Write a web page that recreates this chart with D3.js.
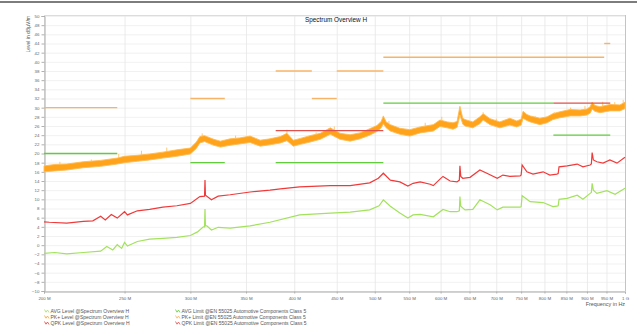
<!DOCTYPE html>
<html>
<head>
<meta charset="utf-8">
<script src="https://cdn.jsdelivr.net/npm/d3@7"></script>
<style>
  body { margin: 0; background: #fff; }
  svg { display: block; }
  text { font-family: "Liberation Sans", Arial, sans-serif; }
</style>
</head>
<body>
<svg id="chart" width="637" height="327"></svg>
<script>
// Frequency axis (MHz, logarithmic) and level axis (dBµV/m)
const freqTicks = [200, 250, 300, 350, 400, 450, 500, 550, 600, 650, 700, 750, 800, 850, 900, 950, 1000];
const freqTickLabels = ["200 M", "250 M", "300 M", "350 M", "400 M", "450 M", "500 M", "550 M", "600 M",
  "650 M", "700 M", "750 M", "800 M", "850 M", "900 M", "950 M", "1 G"];
const levelTicks = d3.range(-10, 51, 2);

// PK+ level: noisy trace, stored as lower / upper envelope
const pkFreq = [200, 206, 213, 223, 234, 245, 250, 259, 268, 278, 289, 300, 305, 308, 312, 316, 320, 326, 335, 344,
  354, 364, 374, 385, 392, 399, 407, 418, 430, 442, 454, 467, 480, 493, 503, 509, 512, 516, 522, 536,
  551, 567, 588, 599, 611, 621, 628, 633, 638, 642, 656, 669, 675, 688, 707, 727, 741, 750, 754, 762,
  769, 790, 806, 819, 835, 859, 883, 900, 908, 913, 920, 933, 959, 986, 1000];
const pkHigh = [17.3, 17.6, 17.7, 18.2, 18.5, 19.0, 19.4, 19.6, 19.9, 20.3,
  20.8, 21.2, 22.5, 23.7, 23.9, 23.5, 23.1, 22.7, 23.2, 23.4,
  23.8, 22.9, 23.2, 23.7, 24.4, 22.9, 23.3, 23.9, 24.4, 25.6,
  24.4, 24.1, 24.5, 25.4, 26.1, 27.0, 28.2, 26.9, 26.3, 25.5,
  25.2, 25.8, 26.3, 27.3, 26.9, 26.7, 27.0, 30.3, 27.7, 27.4,
  26.9, 28.0, 28.7, 27.6, 26.9, 27.7, 27.1, 27.5, 29.2, 28.5,
  28.2, 27.7, 28.0, 28.7, 29.1, 29.6, 29.5, 29.7, 30.2, 31.2,
  30.5, 30.2, 30.7, 30.6, 31.2];
const pkLow = [16.0, 16.2, 16.4, 16.9, 17.2, 17.7, 18.0, 18.3, 18.6, 19.0,
  19.4, 19.9, 21.1, 22.3, 22.6, 22.2, 21.8, 21.4, 21.8, 22.1,
  22.4, 21.6, 21.9, 22.3, 22.8, 21.6, 22.0, 22.5, 23.1, 24.2,
  23.1, 22.7, 23.2, 24.0, 24.8, 25.6, 26.5, 25.6, 24.9, 24.2,
  23.8, 24.5, 24.9, 25.9, 25.6, 25.3, 25.7, 28.4, 26.4, 26.0,
  25.6, 26.5, 27.3, 26.3, 25.6, 26.2, 25.8, 26.2, 27.7, 27.2,
  26.9, 26.3, 26.7, 27.4, 27.8, 28.2, 28.2, 28.4, 28.8, 29.7,
  29.2, 28.9, 29.3, 29.3, 29.8];
// isolated noise peaks rising above the PK+ band
const pkPeakFreq = [209, 228, 246, 262, 281, 310, 340, 392, 425, 447, 520, 575, 602, 675, 700, 780, 822, 860, 895, 940, 972, 995];
const pkPeakLevel = [18.2, 18.7, 19.9, 20.6, 21.3, 24.4, 23.9, 25.2, 24.6, 25.9, 27.1, 26.7, 28.0, 29.0, 27.6, 28.1, 29.0, 30.0, 30.4, 31.3, 31.2, 31.7];

// QPK level
const qpkFreq = [200, 203, 213, 223, 229, 234, 237, 241, 245, 250, 252, 259, 268, 278, 289, 300, 308, 312, 312.4, 312.8,
  318, 324, 335, 354, 374, 385, 406, 442, 467, 493, 505, 512, 522, 536, 548, 556, 567, 583, 588, 599,
  604, 616, 628, 632, 633, 634.5, 638, 651, 669, 682, 702, 713, 727, 748, 750, 752, 762, 775, 797, 812,
  828, 831, 833, 852, 876, 890, 908, 911, 913, 916, 925, 941, 959, 978, 1000];
const qpkLevel = [5.1, 5.0, 4.8, 5.2, 5.3, 6.3, 5.5, 6.7, 5.9, 7.3, 6.6, 7.5, 7.8, 8.3, 8.6, 9.1, 10.6, 10.7, 14.2, 10.9,
  9.9, 10.7, 11.0, 11.6, 12.0, 12.3, 12.7, 13.0, 13.0, 13.6, 14.6, 15.7, 14.2, 13.8, 12.9, 13.5, 13.8, 13.3, 13.0, 14.4,
  15.0, 14.0, 13.8, 14.2, 17.3, 15.0, 14.6, 14.8, 16.4, 15.7, 14.6, 15.3, 15.0, 15.1, 15.3, 17.5, 16.0, 15.5, 16.0, 15.3,
  15.5, 15.6, 17.1, 17.3, 17.7, 17.1, 17.5, 17.7, 20.2, 18.6, 18.2, 17.9, 18.6, 17.9, 19.2];

// AVG level
const avgFreq = [200, 206, 213, 223, 234, 238, 242, 245, 248, 250, 252, 259, 268, 278, 289, 300, 306, 311, 312, 312.4,
  312.8, 314, 318, 324, 335, 354, 374, 406, 442, 467, 493, 506, 512, 522, 536, 548, 556, 567, 588, 604,
  616, 628, 632, 633, 634.5, 642, 656, 669, 688, 702, 713, 727, 748, 750, 752, 769, 797, 819, 828, 831,
  833, 852, 876, 890, 908, 911, 913, 916, 925, 951, 973, 1000];
const avgLevel = [-1.8, -1.6, -1.9, -1.6, -1.3, -0.3, -1.05, 0.1, -0.7, 0.6, -0.2, 0.8, 1.3, 1.5, 1.7, 2.1, 2.9, 4.0, 4.0, 7.9,
  4.2, 4.2, 3.3, 3.9, 3.7, 4.2, 5.0, 6.6, 7.0, 7.2, 7.7, 8.6, 9.9, 8.5, 7.0, 5.9, 6.6, 6.7, 6.2, 7.8,
  7.3, 7.3, 7.5, 10.6, 8.5, 7.7, 7.8, 9.9, 8.8, 7.7, 8.3, 8.3, 8.3, 8.4, 10.8, 9.5, 9.3, 8.4, 8.5, 8.6,
  10.0, 10.2, 10.9, 10.0, 11.3, 11.5, 13.5, 12.0, 11.3, 11.9, 11.1, 12.4];

// EN 55025 Class 5 limits: [start MHz, stop MHz, dBµV/m]
const pkLimit = [[200, 245, 30], [300, 330, 32], [380, 420, 38], [420, 450, 32], [450, 512, 38], [512, 944, 41], [944, 960, 44]];
const avgLimit = [[200, 245, 20], [300, 330, 18], [380, 512, 18], [512, 820, 31], [820, 960, 24]];
const qpkLimit = [[380, 512, 25], [820, 960, 31]];

const legendLevels = ["AVG Level @Spectrum Overview H", "PK+ Level @Spectrum Overview H", "QPK Level @Spectrum Overview H"];
const legendLimits = ["AVG Limit @EN 55025 Automotive Components Class 5", "PK+ Limit @EN 55025 Automotive Components Class 5",
  "QPK Limit @EN 55025 Automotive Components Class 5"];

const colors = {
  avgLevel: "#a3e25c", pkLevel: "#ffa31a", pkEdge: "#ffbb55", qpkLevel: "#f03a3a",
  avgLimit: "#62cc3e", pkLimit: "#f8b466", qpkLimit: "#e0504e"
};

const svg = d3.select("#chart");
const plotLeft = 44, plotRight = 625, plotTop = 15, plotBottom = 291;

const x = d3.scaleLog().domain([200, 1000]).range([plotLeft, plotRight]);
const y = d3.scaleLinear().domain([-10, 50]).range([plotBottom, 16]);

svg.append("rect").attr("width", 637).attr("height", 327).attr("fill", "#fff");
svg.append("rect").attr("x", 0).attr("y", 1).attr("width", 637).attr("height", 2).attr("fill", "#7d7d7d");

// grid
const grid = svg.append("g");
grid.selectAll("line.h").data(levelTicks).join("line")
  .attr("x1", plotLeft).attr("x2", plotRight)
  .attr("y1", d => y(d) + 0.5).attr("y2", d => y(d) + 0.5)
  .attr("stroke", "#eeeeee").attr("stroke-width", 0.8);
grid.selectAll("line.v").data(freqTicks).join("line")
  .attr("x1", d => x(d) + 0.5).attr("x2", d => x(d) + 0.5)
  .attr("y1", plotTop).attr("y2", plotBottom)
  .attr("stroke", "#e6e6e6").attr("stroke-width", 0.8);

// frame
svg.append("line").attr("x1", plotLeft).attr("x2", plotRight).attr("y1", plotTop + 0.5).attr("y2", plotTop + 0.5).attr("stroke", "#dcdcdc");
svg.append("line").attr("x1", plotRight + 0.5).attr("x2", plotRight + 0.5).attr("y1", plotTop).attr("y2", plotBottom).attr("stroke", "#c4c4c4");

// axes
const yAxis = svg.append("g").attr("transform", `translate(${plotLeft + 0.5},0)`)
  .call(d3.axisLeft(y).tickValues(levelTicks).tickSize(3).tickPadding(2));
const xAxis = svg.append("g").attr("transform", `translate(0,${plotBottom + 0.5})`)
  .call(d3.axisBottom(x).tickValues(freqTicks).tickFormat((d, i) => freqTickLabels[i]).tickSize(2).tickPadding(3));
[yAxis, xAxis].forEach(g => {
  g.select(".domain").attr("stroke", "#a8a8a8");
  g.selectAll(".tick line").attr("stroke", "#b0b0b0");
  g.selectAll(".tick text").attr("fill", "#666").attr("font-size", 4.4)
    .attr("font-family", "'Liberation Sans', Arial, sans-serif");
});

// PK+ level band and its noise peaks
svg.append("path")
  .datum(pkFreq.map((f, i) => [f, pkLow[i], pkHigh[i]]))
  .attr("d", d3.area().x(d => x(d[0])).y0(d => y(d[1])).y1(d => y(d[2])))
  .attr("fill", colors.pkLevel).attr("stroke", colors.pkEdge).attr("stroke-width", 0.9);
const pkBandTop = d3.scaleLog().domain(pkFreq).range(pkHigh);
svg.append("g").selectAll("line").data(pkPeakFreq.map((f, i) => [f, pkPeakLevel[i]])).join("line")
  .attr("x1", d => x(d[0])).attr("x2", d => x(d[0]))
  .attr("y1", d => y(pkBandTop(d[0]))).attr("y2", d => y(d[1]))
  .attr("stroke", colors.pkEdge).attr("stroke-width", 0.8);

const line = d3.line().x(d => x(d[0])).y(d => y(d[1]));
svg.append("path").datum(qpkFreq.map((f, i) => [f, qpkLevel[i]]))
  .attr("d", line).attr("fill", "none").attr("stroke", colors.qpkLevel).attr("stroke-width", 1.2);
svg.append("path").datum(avgFreq.map((f, i) => [f, avgLevel[i]]))
  .attr("d", line).attr("fill", "none").attr("stroke", colors.avgLevel).attr("stroke-width", 1.2);

// limit segments
function drawLimits(data, color) {
  svg.append("g").selectAll("line").data(data).join("line")
    .attr("x1", d => x(d[0])).attr("x2", d => x(d[1]))
    .attr("y1", d => y(d[2])).attr("y2", d => y(d[2]))
    .attr("stroke", color).attr("stroke-width", 1.4);
}
drawLimits(pkLimit, colors.pkLimit);
drawLimits(avgLimit, colors.avgLimit);
drawLimits(qpkLimit, colors.qpkLimit);

// titles
svg.append("text").attr("x", 336).attr("y", 21.5).attr("text-anchor", "middle")
  .attr("font-size", 6.4).attr("fill", "#111").text("Spectrum Overview H");
svg.append("text").attr("transform", "translate(30,16) rotate(-90)").attr("text-anchor", "end")
  .attr("font-size", 5).attr("fill", "#555").text("Level in dBµV/m");
svg.append("text").attr("x", plotRight).attr("y", 306).attr("text-anchor", "end")
  .attr("font-size", 5.4).attr("fill", "#555").text("Frequency in Hz");

// legend
const legendRows = [311, 317, 323];
function legendColumn(x0, labels, cols) {
  labels.forEach((t, i) => {
    const cy = legendRows[i];
    svg.append("path")
      .attr("d", `M${x0},${cy - 1.5} L${x0 + 1.5},${cy + 1.2} L${x0 + 3},${cy - 1} L${x0 + 4.5},${cy + 1.5}`)
      .attr("fill", "none").attr("stroke", cols[i]).attr("stroke-width", 0.8);
    svg.append("text").attr("x", x0 + 6).attr("y", cy + 1.8)
      .attr("font-size", 5).attr("fill", "#555").text(t);
  });
}
legendColumn(44.5, legendLevels, [colors.avgLevel, colors.pkLevel, colors.qpkLevel]);
legendColumn(175.5, legendLimits, [colors.avgLimit, colors.pkLimit, colors.qpkLimit]);
</script>
</body>
</html>
